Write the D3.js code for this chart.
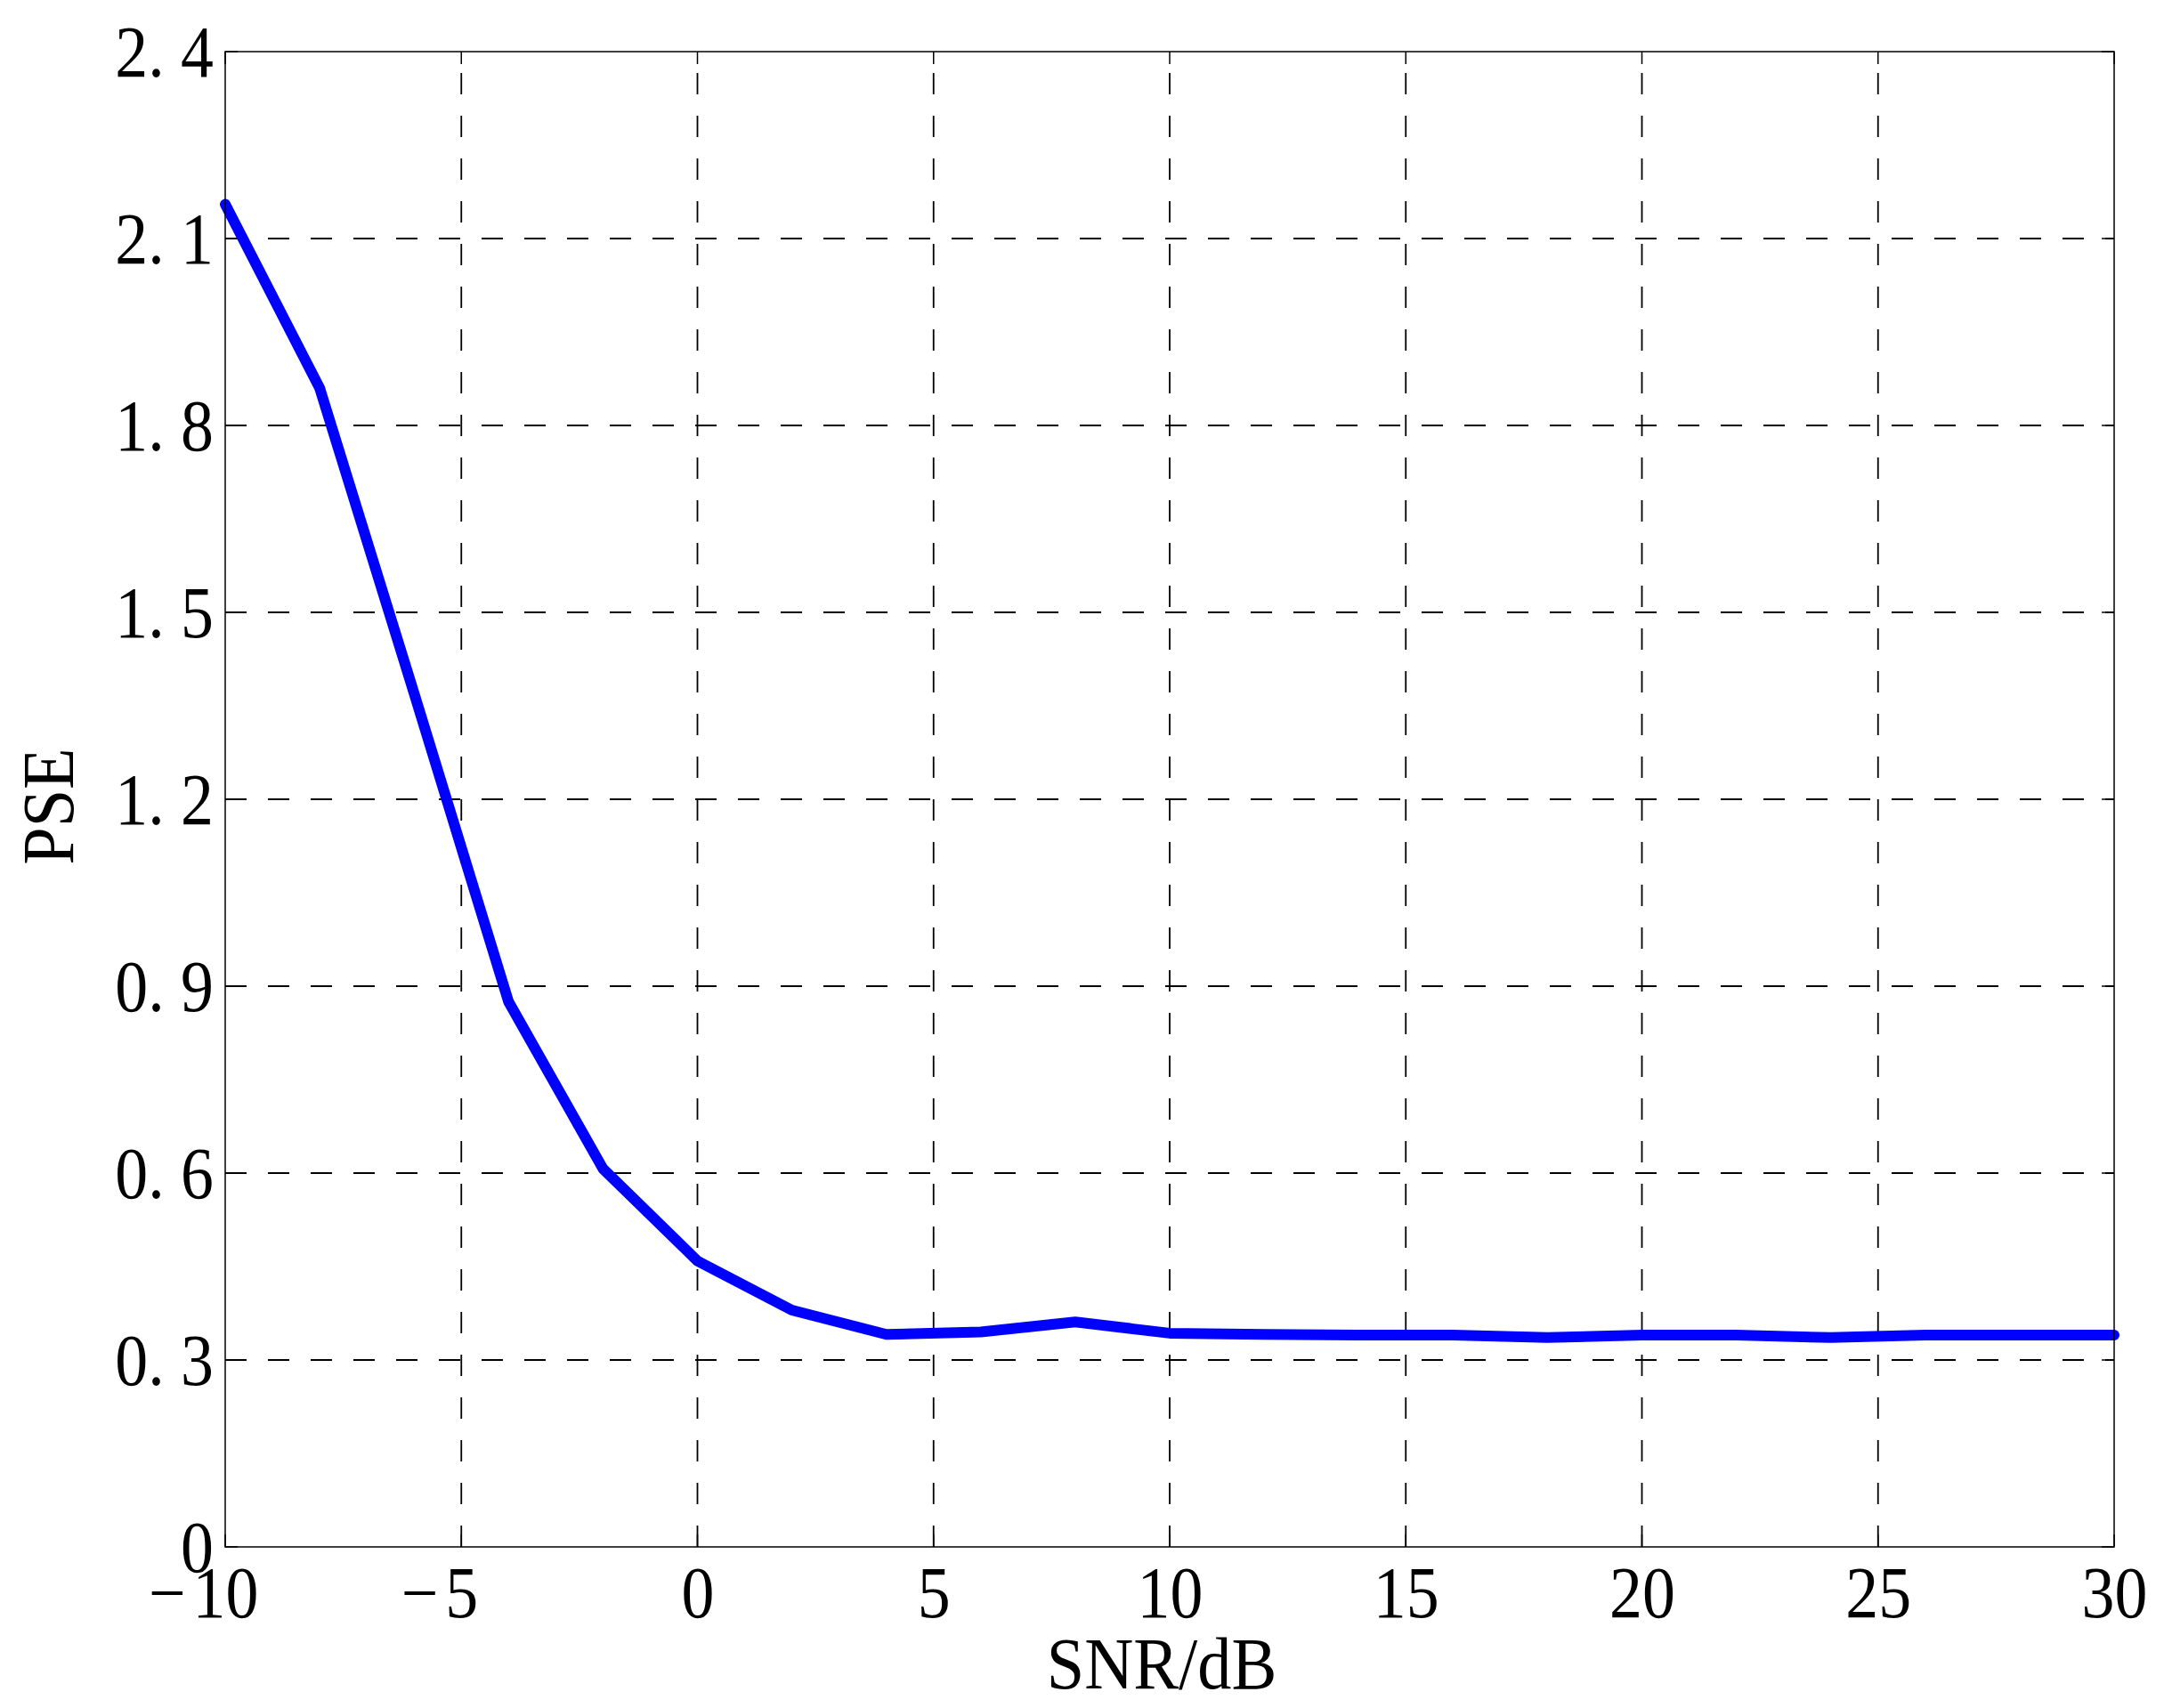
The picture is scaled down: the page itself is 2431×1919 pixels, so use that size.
<!DOCTYPE html>
<html lang="en">
<head>
<meta charset="UTF-8">
<title>PSE vs SNR</title>
<script src="https://cdn.jsdelivr.net/npm/d3@7"></script>
<style>
    body{ margin:0; background:#fff; }
    svg{ display:block; }
    text{ font-family:"Liberation Serif","Times New Roman",serif; fill:#000; }
    .grid line{ stroke:#000; stroke-width:1.8px; stroke-dasharray:24,24; }
    .ticks line{ stroke:#000; stroke-width:1.5px; }
    .frame{ fill:none; stroke:#000; stroke-width:1.5px; }
    .curve{ fill:none; stroke:#0000ff; stroke-width:12px; stroke-linejoin:round; stroke-linecap:round; }
</style>
</head>
<body>
<svg id="chart"></svg>
<script>
    // data
    const snr = [-10, -8, -6, -4, -2, 0, 2, 4, 6, 8, 10, 12, 14, 16, 18, 20, 22, 24, 26, 28, 30];
    const pse = [2.155, 1.86, 1.37, 0.875, 0.607, 0.459, 0.380, 0.341, 0.345, 0.361, 0.343,
                 0.341, 0.340, 0.340, 0.336, 0.340, 0.340, 0.336, 0.340, 0.340, 0.340];
    const xTicks = [-10, -5, 0, 5, 10, 15, 20, 25, 30];
    const yTicks = [0, 0.3, 0.6, 0.9, 1.2, 1.5, 1.8, 2.1, 2.4];
    const xTitle = "SNR/dB";
    const yTitle = "PSE";

    const width = 2431, height = 1919;
    // plot box in page pixels
    const boxLeft = 253, boxTop = 58, boxRight = 2375, boxBottom = 1738;
    const fontSize = 82;

    let svg = d3.select('#chart').attr('width', width).attr('height', height);

    let xScale = d3.scaleLinear().domain([-10, 30]).range([boxLeft, boxRight]);
    let yScale = d3.scaleLinear().domain([0, 2.4]).range([boxBottom, boxTop]);

    // dashed grid (inner ticks only, the frame covers the edges)
    let grid = svg.append('g').attr('class', 'grid');
    grid.selectAll('.vx').data(xTicks.slice(1, -1)).enter().append('line')
        .attr('x1', d => xScale(d)).attr('x2', d => xScale(d))
        .attr('y1', boxBottom).attr('y2', boxTop);
    grid.selectAll('.hy').data(yTicks.slice(1, -1)).enter().append('line')
        .attr('x1', boxLeft).attr('x2', boxRight)
        .attr('y1', d => yScale(d)).attr('y2', d => yScale(d));

    // small inward ticks on all four sides
    let ticks = svg.append('g').attr('class', 'ticks');
    const tl = 14;
    xTicks.forEach(d => {
        ticks.append('line').attr('x1', xScale(d)).attr('x2', xScale(d)).attr('y1', boxBottom).attr('y2', boxBottom - tl);
        ticks.append('line').attr('x1', xScale(d)).attr('x2', xScale(d)).attr('y1', boxTop).attr('y2', boxTop + tl);
    });
    yTicks.forEach(d => {
        ticks.append('line').attr('x1', boxLeft).attr('x2', boxLeft + tl).attr('y1', yScale(d)).attr('y2', yScale(d));
        ticks.append('line').attr('x1', boxRight).attr('x2', boxRight - tl).attr('y1', yScale(d)).attr('y2', yScale(d));
    });

    // the curve
    let line = d3.line().x(d => xScale(d[0])).y(d => yScale(d[1]));
    svg.append('path').attr('class', 'curve').attr('d', line(d3.zip(snr, pse)));

    svg.append('rect').attr('class', 'frame')
        .attr('x', boxLeft).attr('y', boxTop)
        .attr('width', boxRight - boxLeft).attr('height', boxBottom - boxTop);

    // x axis labels: digits centred on the tick, minus hanging to the left
    let xAxis = d3.axisBottom(xScale).tickValues(xTicks).tickSize(0).tickFormat(d => Math.abs(d));
    let gx = svg.append('g').attr('transform', `translate(0,${boxBottom})`).call(xAxis);
    gx.select('.domain').remove();
    gx.selectAll('.tick text')
        .attr('font-size', fontSize)
        .attr('y', 79).attr('dy', 0)
        .attr('transform', 'scale(0.9,1)');
    gx.attr('font-family', null).attr('font-size', null);
    gx.selectAll('.tick').each(function (d) {
        if (d >= 0) return;
        let g = d3.select(this);
        let w = g.select('text').node().getComputedTextLength() * 0.9;
        g.append('text')
            .attr('font-size', fontSize)
            .attr('text-anchor', 'end')
            .attr('x', 0).attr('y', 79)
            .attr('transform', `translate(${-w / 2 - 8},0) scale(0.9,1)`)
            .text('\u2212');
    });

    // y axis labels
    let yAxis = d3.axisLeft(yScale).tickValues(yTicks).tickSize(0)
        .tickFormat(d => d === 0 ? '0' : d3.format('.1f')(d).replace('.', '. '));
    let gy = svg.append('g').attr('transform', `translate(${boxLeft},0)`).call(yAxis);
    gy.select('.domain').remove();
    gy.attr('font-family', null).attr('font-size', null);
    gy.selectAll('.tick text')
        .attr('font-size', fontSize)
        .attr('x', 0).attr('dy', '0.34em')
        .attr('text-anchor', 'end')
        .attr('transform', 'translate(-13,0) scale(0.9,1)');

    // axis titles
    svg.append('text')
        .attr('font-size', fontSize).attr('text-anchor', 'middle')
        .attr('transform', 'translate(1305,1897) scale(0.93,1)')
        .text(xTitle);
    svg.append('text')
        .attr('font-size', fontSize).attr('text-anchor', 'middle')
        .attr('transform', 'translate(82,906) rotate(-90) scale(0.93,1)')
        .text(yTitle);
</script>
</body>
</html>
